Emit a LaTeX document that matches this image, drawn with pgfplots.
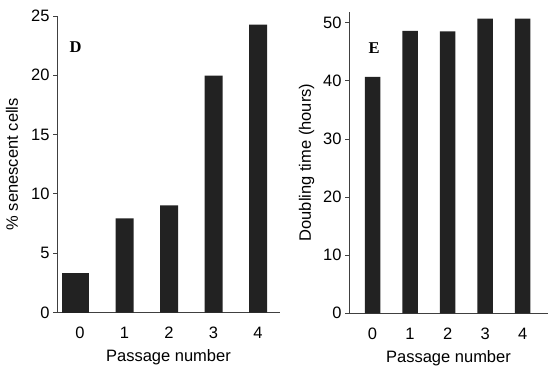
\documentclass[border=0pt]{standalone}
\usepackage{pgfplots}
\pgfplotsset{compat=1.18}
\usepackage{fontspec}
\setmainfont{Liberation Sans}
\newfontfamily\timesfont{Liberation Serif}
\definecolor{barc}{HTML}{222222}
\definecolor{axc}{HTML}{404040}
\newcommand{\lbl}{\fontsize{16.5bp}{19bp}\selectfont}
\pgfplotsset{
  panel/.style={
    scale only axis,
    axis x line=bottom, axis y line=left,
    axis line style={-, axc, line width=0.8bp},
    ytick style={axc, line width=0.8bp},
    tick align=outside,
    major tick length=4bp,
    x tick style={draw=none},
    xtick={0,1,2,3,4},
    ymin=0,
    /pgf/number format/assume math mode=true,
    tick label style={font=\lbl},
    label style={font=\lbl},
    x tick label style={anchor=base, yshift=-22bp},
    xlabel style={at={(axis description cs:0.5,0)}, anchor=base, yshift=-49bp},
    ybar, bar width=18bp,
  }
}
\begin{document}
\begin{tikzpicture}
\useasboundingbox (0,0) rectangle (550bp,369bp);
\begin{axis}[panel,
  at={(57bp,56.5bp)}, anchor=south west,
  width=223bp, height=296.5bp,
  xmin=-0.517, xmax=4.494,
  ymax=25, ytick={0,5,10,15,20,25},
  xlabel={Passage number},
  ylabel={\% senescent cells},
  ylabel style={at={(axis description cs:-0.2018,0.5)}, anchor=center},
]
\addplot[fill=barc, draw=none, bar width=27bp, bar shift=-4.5bp] coordinates {(0,3.35)};
\addplot[fill=barc, draw=none, bar shift=0bp] coordinates {(1,7.93) (2,9.03) (3,19.97) (4,24.27)};
\node[font=\timesfont\bfseries\fontsize{16.5bp}{19bp}\selectfont] at (axis cs:-0.1,22.34) {D};
\end{axis}
\begin{axis}[panel,
  at={(349bp,55.7bp)}, anchor=south west,
  width=199bp, height=301.6bp,
  xmin=-0.626, xmax=4.673,
  ymax=51.9, ytick={0,10,20,30,40,50},
  bar width=15.5bp,
  xlabel={Passage number},
  ylabel={Doubling time (hours)},
  ylabel style={at={(axis description cs:-0.2126,0.5)}, anchor=center},
]
\addplot[fill=barc, draw=none, bar shift=0bp] coordinates {(0,40.7) (1,48.6) (2,48.5) (3,50.7) (4,50.7)};
\node[font=\timesfont\bfseries\fontsize{16.5bp}{19bp}\selectfont] at (axis cs:0.04,45.7) {E};
\end{axis}
\end{tikzpicture}
\end{document}
